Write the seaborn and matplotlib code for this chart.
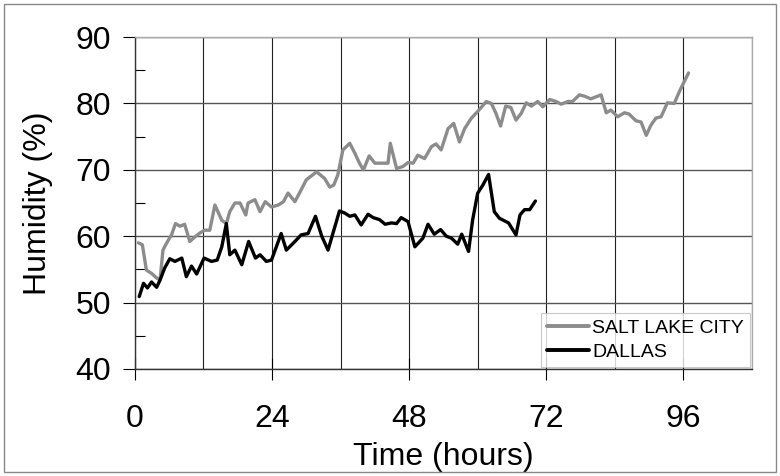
import numpy as np
import pandas as pd
import seaborn as sns
import matplotlib.pyplot as plt
from matplotlib.patches import Rectangle
from matplotlib.ticker import MultipleLocator

slc_hours = [0.6, 1.3, 2.0, 2.9, 3.8, 4.4, 4.9, 5.5, 6.4, 7.1, 7.9, 8.7, 9.6, 10.5,
             11.4, 12.2, 13.1, 14.0, 15.2, 16.0, 16.6, 17.5, 18.4, 19.4, 19.8, 21.0,
             21.9, 22.8, 23.9, 25.1, 26.0, 26.8, 28.0, 28.8, 30.0, 31.8, 33.2, 34.1,
             34.8, 35.5, 36.4, 37.6, 38.5, 39.3, 40.0, 41.0, 42.0, 43.1, 44.3, 44.7,
             45.8, 46.9, 47.8, 48.7, 49.5, 50.7, 51.9, 52.7, 53.6, 54.8, 55.8, 56.8,
             57.7, 58.9, 60.0, 61.5, 62.4, 63.2, 64.0, 64.9, 65.8, 66.7, 67.6, 68.5,
             69.4, 70.5, 71.4, 72.6, 73.7, 74.6, 75.8, 76.6, 77.8, 78.7, 79.8, 81.6,
             82.5, 83.3, 84.5, 85.7, 86.5, 87.7, 88.6, 89.5, 90.3, 91.2, 92.1, 93.2,
             94.4, 95.3, 96.9]
slc_humidity = [59.0, 58.7, 54.9, 54.4, 53.7, 53.4, 57.9, 58.9, 60.2, 61.9, 61.5, 61.8,
                59.2, 59.9, 60.5, 60.9, 60.9, 64.7, 62.4, 61.9, 63.7, 65.0, 65.0, 63.2,
                65.0, 65.5, 63.7, 65.2, 64.4, 64.7, 65.2, 66.5, 65.2, 66.5, 68.5, 69.7,
                68.7, 67.4, 67.7, 69.2, 73.0, 74.0, 72.5, 71.0, 70.0, 72.1, 71.0, 71.0,
                71.0, 74.0, 70.2, 70.5, 71.1, 71.0, 72.2, 71.7, 73.5, 73.9, 73.0, 76.2,
                77.0, 74.2, 76.2, 77.8, 78.8, 80.3, 80.0, 78.5, 76.6, 79.6, 79.4, 77.5,
                78.5, 80.1, 79.6, 80.3, 79.5, 80.6, 80.3, 79.9, 80.3, 80.3, 81.3, 81.1,
                80.7, 81.3, 78.6, 79.0, 78.0, 78.6, 78.4, 77.4, 77.2, 75.2, 76.7, 77.8,
                78.0, 80.1, 80.0, 81.8, 84.6]

dallas_hours = [0.75, 1.5, 2.2, 2.9, 3.8, 4.4, 5.2, 6.1, 7.0, 8.2, 9.0, 9.9, 10.8, 12.1,
                13.4, 14.4, 15.2, 16.0, 16.6, 17.5, 18.7, 19.9, 21.1, 21.9, 23.0, 23.9,
                25.6, 26.5, 28.0, 29.1, 30.3, 31.6, 32.7, 33.8, 35.8, 36.7, 37.6, 38.5,
                39.6, 40.8, 41.7, 42.8, 43.8, 44.9, 45.8, 46.6, 47.8, 49.0, 50.4, 51.3,
                52.4, 53.5, 54.5, 55.4, 56.5, 57.2, 58.4, 59.1, 60.0, 60.9, 61.9, 62.9,
                63.8, 65.4, 66.7, 67.4, 68.2, 69.1, 70.1]
dallas_humidity = [50.9, 52.9, 52.2, 53.1, 52.3, 53.4, 55.2, 56.6, 56.2, 56.7, 53.9, 55.5,
                   54.3, 56.7, 56.2, 56.4, 58.4, 61.9, 57.2, 57.9, 55.7, 59.2, 56.7, 57.2,
                   56.2, 56.4, 60.4, 57.9, 59.2, 60.2, 60.4, 63.0, 60.0, 57.9, 63.8, 63.5,
                   63.0, 63.2, 61.7, 63.3, 62.8, 62.5, 61.8, 62.0, 61.9, 62.8, 62.2, 58.4,
                   59.7, 61.8, 60.3, 61.0, 60.0, 59.7, 58.8, 60.3, 57.7, 62.4, 66.5, 67.7,
                   69.3, 63.7, 62.7, 62.0, 60.2, 63.2, 64.0, 64.0, 65.3]

cities = ["SALT LAKE CITY", "DALLAS"]
colors = ["#8c8c8c", "#000000"]

df = pd.concat([
    pd.DataFrame({"Time": slc_hours, "Humidity": slc_humidity, "City": cities[0]}),
    pd.DataFrame({"Time": dallas_hours, "Humidity": dallas_humidity, "City": cities[1]}),
])

sns.set_style("white")
plt.rcParams["font.family"] = ["Liberation Sans", "DejaVu Sans"]
plt.rcParams["text.color"] = "black"
plt.rcParams["axes.labelcolor"] = "black"
plt.rcParams["xtick.color"] = "black"
plt.rcParams["ytick.color"] = "black"

fig = plt.figure(figsize=(7.8, 4.76), dpi=100)
ax = fig.add_axes([0.173, 0.225, 0.791, 0.697])

sns.lineplot(data=df, x="Time", y="Humidity", hue="City", hue_order=cities,
             palette=dict(zip(cities, colors)), sort=False, linewidth=2.4,
             estimator=None, ax=ax, legend=False)

ax.set_xlim(0, 108)
ax.set_ylim(40, 90)
ax.xaxis.set_minor_locator(MultipleLocator(12))
ax.yaxis.set_major_locator(MultipleLocator(10))
ax.yaxis.set_minor_locator(MultipleLocator(5))
ax.set_xticks([0, 24, 48, 72, 96])

ax.grid(which="minor", axis="x", color="#222222", linewidth=0.8)
ax.grid(which="major", axis="x", color="#222222", linewidth=0.8)
ax.grid(which="major", axis="y", color="#555555", linewidth=1.0)
ax.set_axisbelow(True)

ax.tick_params(axis="x", which="major", direction="inout", length=16, width=0.8,
               labelsize=23, pad=17, bottom=True)
ax.tick_params(axis="x", which="minor", length=0)
ax.tick_params(axis="y", which="major", direction="out", length=9, width=0.8,
               labelsize=23, pad=8, left=True)
ax.tick_params(axis="y", which="minor", direction="in", length=7, width=0.8, left=True)

for side in ["left", "bottom"]:
    ax.spines[side].set_color("#333333")
    ax.spines[side].set_linewidth(1.0)
for side in ["top", "right"]:
    ax.spines[side].set_color("#aaaaaa")
    ax.spines[side].set_linewidth(1.0)

ax.set_xlabel("Time (hours)", fontsize=23, labelpad=6)
ax.set_ylabel("Humidity (%)", fontsize=23, labelpad=16)

handles = [plt.Line2D([], [], color=c, linewidth=2.8) for c in colors]
leg = ax.legend(handles, cities, loc="lower right", fontsize=14, frameon=True,
                fancybox=False, handlelength=2.2, handletextpad=0.15,
                borderaxespad=0.1, borderpad=0.3, labelspacing=0.35)
leg.get_frame().set_edgecolor("#bbbbbb")
leg.get_frame().set_linewidth(0.8)

fig.patches.append(Rectangle((0.005, 0.008), 0.99, 0.983, transform=fig.transFigure,
                             fill=False, edgecolor="#888888", linewidth=1.0))

fig.savefig("out.png", dpi=100)
